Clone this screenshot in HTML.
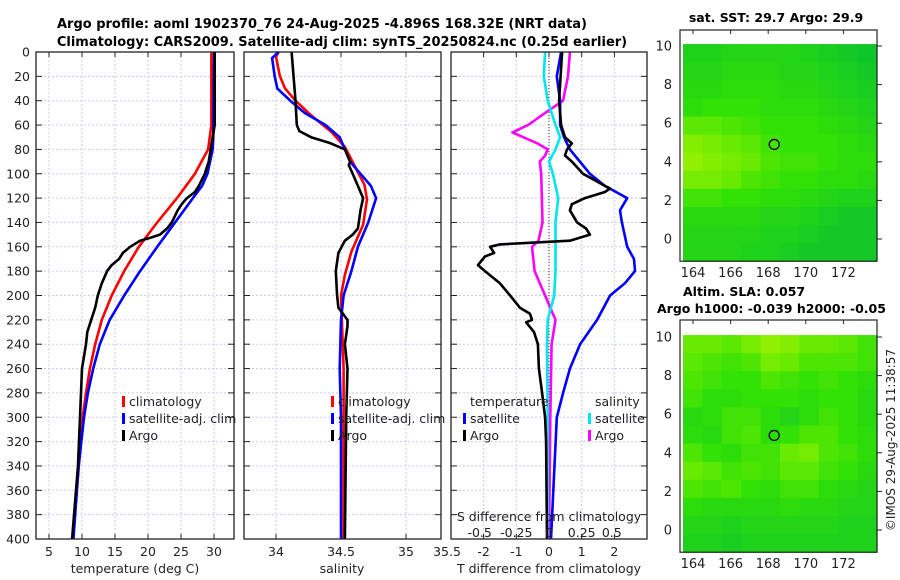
<!DOCTYPE html>
<html><head><meta charset="utf-8"><style>
html,body{margin:0;padding:0;background:#fff;}
svg{display:block;font-family:"DejaVu Sans","Liberation Sans",sans-serif;}
</style></head><body>
<svg id="fig" width="900" height="580" viewBox="0 0 900 580" xmlns="http://www.w3.org/2000/svg">
<text x="322" y="28" text-anchor="middle" font-size="13" font-weight="bold">Argo profile: aoml 1902370_76 24-Aug-2025 -4.896S 168.32E (NRT data)</text>
<text x="342" y="46" text-anchor="middle" font-size="13" font-weight="bold">Climatology: CARS2009. Satellite-adj clim: synTS_20250824.nc (0.25d earlier)</text>
<g id="g1"></g>
<g id="g2"></g>
<g id="g3"></g>
<g id="m1"></g>
<g id="m2"></g>
<text x="776" y="22" text-anchor="middle" font-size="12.5" font-weight="bold">sat. SST: 29.7 Argo: 29.9</text>
<text x="683" y="296" font-size="12.5" font-weight="bold">Altim. SLA: 0.057</text>
<text x="657" y="313" font-size="12.5" font-weight="bold">Argo h1000: -0.039 h2000: -0.05</text>
<text transform="translate(895,440) rotate(-90)" text-anchor="middle" font-size="12" fill="#222">©IMOS 29-Aug-2025 11:38:57</text>
</svg>
<script>
// ---- data ----
const depthTicks = [0,20,40,60,80,100,120,140,160,180,200,220,240,260,280,300,320,340,360,380,400];
const tempTicks = [5,10,15,20,25,30];
const salTicks = [34,34.5,35];
const dTTicks = [-2,-1,0,1,2];
const dSTickLabels = ["-0.5","-0.25","0","0.25","0.5"];
const dSTicks = [-0.53,-0.25,0,0.25,0.48];

const climTdepth = [0,60,80,100,120,140,160,180,200,220,240,260,280,300,340,400];
const climT = [29.6,29.6,29.1,27.1,24.4,21.4,18.6,16.4,14.5,13.0,12.0,11.2,10.6,10.1,9.5,8.6];
const satTdepth = [0,70,80,100,110,120,140,160,180,200,220,240,260,280,300,340,400];
const satT = [30.0,29.9,29.8,29.0,28.2,26.8,24.1,21.4,18.8,16.4,14.2,12.7,11.7,10.9,10.3,9.5,8.7];
const argoTdepth = [0,60,80,90,100,110,115,120,125,130,140,145,150,153,155,160,165,170,175,180,190,200,210,220,230,240,260,300,340,400];
const argoT = [30.1,30.1,29.5,29.2,28.6,27.7,27.1,25.9,25.1,24.5,23.6,22.9,21.8,20.1,18.8,17.3,16.2,15.6,14.5,13.8,13.0,12.4,12.0,11.4,10.8,10.6,10.0,9.7,9.4,8.5];

const climSdepth = [0,4,20,30,40,52,66,78,109,121,142,164,183,200,260,400];
const climS = [34.02,34.0,34.03,34.07,34.15,34.27,34.43,34.53,34.68,34.70,34.67,34.58,34.53,34.50,34.52,34.52];
const satSdepth = [0,5,20,30,40,50,60,70,80,90,100,110,120,140,160,180,200,220,260,300,400];
const satS = [34.02,33.97,33.99,34.01,34.11,34.22,34.38,34.49,34.53,34.57,34.65,34.73,34.77,34.71,34.63,34.58,34.52,34.50,34.49,34.50,34.50];
const argoSdepth = [0,40,60,65,70,75,80,90,93,100,110,120,130,145,150,155,165,180,200,210,220,225,240,260,300,400];
const argoS = [34.12,34.15,34.16,34.18,34.27,34.42,34.53,34.57,34.56,34.59,34.63,34.67,34.65,34.63,34.59,34.53,34.48,34.46,34.47,34.48,34.55,34.55,34.53,34.55,34.54,34.53];

const dTsatDepth = [0,20,40,60,70,80,100,110,120,130,140,160,170,180,190,200,220,240,260,280,300,400];
const dTsat = [0.37,0.24,0.34,0.34,0.46,0.64,1.25,1.71,2.39,2.17,2.23,2.39,2.6,2.63,2.32,1.87,1.47,0.95,0.64,0.43,0.24,0.06];
const dTargoDepth = [0,40,60,70,75,80,85,90,100,105,110,112,115,120,125,130,140,145,150,155,158,160,165,168,175,180,190,200,210,215,220,222,230,240,260,280,300,320,400];
const dTargo = [0.4,0.31,0.37,0.49,0.7,0.55,0.49,0.7,1.04,1.38,1.71,1.87,1.71,1.1,0.7,0.64,0.86,1.13,1.25,0.64,-1.5,-1.8,-1.68,-1.96,-2.17,-1.96,-1.5,-1.19,-0.89,-0.58,-0.52,-0.7,-0.46,-0.34,-0.31,-0.21,-0.12,-0.09,-0.06];
const dSsatDepth = [0,20,40,60,70,80,90,100,120,140,160,180,200,220,240,300,400];
const dSsat = [-0.03,-0.04,-0.01,0.05,0.085,0.05,0.0,0.03,0.07,0.05,0.05,0.05,0.04,-0.01,-0.015,-0.01,-0.01];
const dSargoDepth = [0,20,40,50,60,66,75,80,85,90,100,140,155,160,180,200,210,220,240,300,400];
const dSargo = [0.16,0.145,0.107,-0.03,-0.16,-0.28,-0.09,-0.01,-0.03,-0.07,-0.06,-0.05,-0.08,-0.13,-0.11,-0.03,0.01,0.05,0.02,0.01,0.0];

const mapLons = [164,166,168,170,172];
const mapLats = [0,2,4,6,8,10];
const sstGrid = [
[0.30,0.30,0.35,0.35,0.35,0.35,0.30,0.25,0.20,0.15],
[0.35,0.35,0.40,0.40,0.40,0.35,0.35,0.30,0.25,0.20],
[0.40,0.40,0.45,0.45,0.45,0.40,0.40,0.35,0.30,0.25],
[0.45,0.50,0.50,0.50,0.45,0.45,0.45,0.40,0.35,0.30],
[0.65,0.65,0.60,0.55,0.50,0.50,0.50,0.45,0.40,0.35],
[0.80,0.75,0.70,0.65,0.55,0.50,0.50,0.50,0.45,0.40],
[0.85,0.80,0.75,0.70,0.60,0.55,0.55,0.50,0.45,0.45],
[0.75,0.75,0.70,0.60,0.55,0.50,0.50,0.45,0.45,0.40],
[0.55,0.55,0.50,0.50,0.45,0.45,0.40,0.35,0.30,0.30],
[0.40,0.40,0.40,0.40,0.35,0.35,0.30,0.25,0.20,0.20],
[0.35,0.35,0.35,0.35,0.30,0.30,0.25,0.20,0.20,0.20],
[0.35,0.35,0.35,0.30,0.30,0.25,0.20,0.20,0.20,0.20]];
const slaGrid = [
[0.70,0.70,0.65,0.75,0.85,0.80,0.70,0.70,0.65,0.55],
[0.65,0.60,0.55,0.60,0.75,0.70,0.60,0.60,0.60,0.55],
[0.60,0.55,0.50,0.50,0.60,0.55,0.50,0.55,0.50,0.45],
[0.55,0.45,0.45,0.50,0.50,0.50,0.45,0.50,0.50,0.40],
[0.40,0.45,0.55,0.55,0.45,0.35,0.45,0.55,0.50,0.40],
[0.45,0.40,0.55,0.60,0.45,0.50,0.60,0.60,0.50,0.45],
[0.60,0.50,0.45,0.55,0.55,0.70,0.75,0.60,0.55,0.45],
[0.70,0.65,0.55,0.60,0.55,0.65,0.65,0.55,0.50,0.40],
[0.60,0.55,0.60,0.50,0.45,0.55,0.55,0.45,0.40,0.35],
[0.45,0.40,0.40,0.40,0.40,0.45,0.40,0.40,0.35,0.35],
[0.35,0.35,0.30,0.35,0.35,0.35,0.35,0.35,0.30,0.30],
[0.30,0.30,0.25,0.30,0.30,0.30,0.30,0.30,0.30,0.30]];

// ---- drawing ----
const NS = "http://www.w3.org/2000/svg";
function mk(parent, tag, attrs){ const e=document.createElementNS(NS,tag); for(const k in attrs) e.setAttribute(k,attrs[k]); parent.appendChild(e); return e; }
const Y0=52, Y1=539;
const yD = d => Y0 + d*(Y1-Y0)/400;
const xT = t => 49 + (t-5)*6.6;
const xS = s => 276 + (s-34)*130;
const xdT = v => 549 + v*32.7;
const xdS = v => 549 + v*130.8;

function panel(g, left, right){
  for(const d of depthTicks){ if(d>0&&d<400){ const l=mk(g,'line',{x1:left,x2:right,y1:yD(d),y2:yD(d),stroke:'#c5cdf0','stroke-width':1,'stroke-dasharray':'2,2'});
      }
    const t1=mk(g,'line',{x1:left,x2:left+6,y1:yD(d),y2:yD(d),stroke:'#222','stroke-width':1});
     
    const t2=mk(g,'line',{x1:right-6,x2:right,y1:yD(d),y2:yD(d),stroke:'#222','stroke-width':1});
     
  }
}
function vgrid(g, xs){ for(const x of xs){ const l=mk(g,'line',{x1:x,x2:x,y1:Y0,y2:Y1,stroke:'#c5cdf0','stroke-width':1,'stroke-dasharray':'2,2'});
   
  const t=mk(g,'line',{x1:x,x2:x,y1:Y0,y2:Y0+5,stroke:'#222'});  
  const b=mk(g,'line',{x1:x,x2:x,y1:Y1-5,y2:Y1,stroke:'#222'});   } }
function frame(g,left,right){ const r=mk(g,'rect',{x:left,y:Y0,width:right-left,height:Y1-Y0,fill:'none',stroke:'#222','stroke-width':1.3});
    }
function line(g, depths, vals, fx, color, name){
  const pts = depths.map((d,i)=> fx(vals[i]).toFixed(1)+','+yD(d).toFixed(1)).join(' ');
  const p=mk(g,'polyline',{points:pts,fill:'none',stroke:color,'stroke-width':2.6,'stroke-linejoin':'round'});
   
}
function txt(g,x,y,s,attrs,name){ const t=mk(g,'text',Object.assign({x:x,y:y,'font-size':12.5,fill:'#222'},attrs||{})); t.textContent=s;
    return t; }
function legendEntry(g,x,y,color,label){ const r=mk(g,'rect',{x:x,y:y-10,width:3,height:11,fill:color});
   
  txt(g,x+7,y,label,{},'legend-entry'); }
const L1=406, L2=423, L3=440;

// Panel 1
const g1=document.getElementById('g1');
panel(g1,36,234); vgrid(g1,tempTicks.map(xT));
line(g1,climTdepth,climT,xT,'#ff0000','climatology-temp-line');
line(g1,satTdepth,satT,xT,'#0000ff','satellite-temp-line');
line(g1,argoTdepth,argoT,xT,'#000000','argo-temp-line');
frame(g1,36,234);
for(const d of depthTicks) txt(g1,30,yD(d)+4.5,String(d),{'text-anchor':'end'},'y-tick-label');
for(const t of tempTicks) txt(g1,xT(t),556,String(t),{'text-anchor':'middle'},'x-tick-label');
txt(g1,135,573,'temperature (deg C)',{'text-anchor':'middle'},'x-axis-title');
legendEntry(g1,122,L1,'#ff0000','climatology');
legendEntry(g1,122,L2,'#0000ff','satellite-adj. clim');
legendEntry(g1,122,L3,'#000000','Argo');

// Panel 2
const g2=document.getElementById('g2');
panel(g2,244,441); vgrid(g2,salTicks.map(xS));
line(g2,climSdepth,climS,xS,'#ff0000','climatology-salinity-line');
line(g2,satSdepth,satS,xS,'#0000ff','satellite-salinity-line');
line(g2,argoSdepth,argoS,xS,'#000000','argo-salinity-line');
frame(g2,244,441);
for(const s of salTicks) txt(g2,xS(s),556,String(s),{'text-anchor':'middle'},'x-tick-label');
txt(g2,447,556,'35.5',{'text-anchor':'middle'},'x-tick-label');
txt(g2,342,573,'salinity',{'text-anchor':'middle'},'x-axis-title');
legendEntry(g2,331,L1,'#ff0000','climatology');
legendEntry(g2,331,L2,'#0000ff','satellite-adj. clim');
legendEntry(g2,331,L3,'#000000','Argo');

// Panel 3
const g3=document.getElementById('g3');
panel(g3,451,647); vgrid(g3,dTTicks.map(xdT));
const zl=mk(g3,'line',{x1:xdT(0),x2:xdT(0),y1:Y0,y2:Y1,stroke:'#555','stroke-width':1.2,'stroke-dasharray':'1,2'});
 
line(g3,dSargoDepth,dSargo,xdS,'#ff00ff','argo-salinity-diff-line');
line(g3,dSsatDepth,dSsat,xdS,'#00e5ee','satellite-salinity-diff-line');
line(g3,dTsatDepth,dTsat,xdT,'#0000ff','satellite-temp-diff-line');
line(g3,dTargoDepth,dTargo,xdT,'#000000','argo-temp-diff-line');
frame(g3,451,647);
for(const v of dTTicks) txt(g3,xdT(v),556,String(v),{'text-anchor':'middle'},'x-tick-label');
txt(g3,549,573,'T difference from climatology',{'text-anchor':'middle'},'x-axis-title');
txt(g3,549,521,'S difference from climatology',{'text-anchor':'middle'},'s-axis-title');
dSTicks.forEach((v,i)=> txt(g3,xdS(v),537,dSTickLabels[i],{'text-anchor':'middle'},'s-tick-label'));
txt(g3,470,L1,'temperature',{},'legend-title');
legendEntry(g3,463,L2,'#0000ff','satellite');
legendEntry(g3,463,L3,'#000000','Argo');
txt(g3,595,L1,'salinity',{},'legend-title');
legendEntry(g3,588,L2,'#00e5ee','satellite');
legendEntry(g3,588,L3,'#ff00ff','Argo');

// Maps
function col(v){
  let r,g,b;
  if(v<0.5){ const t=v/0.5; r=0+t*50; g=185+t*40; b=60-t*55; }
  else { const t=(v-0.5)/0.5; r=50+t*135; g=225+t*22; b=5-t*5; }
  return 'rgb('+Math.round(r)+','+Math.round(g)+','+Math.round(b)+')';
}
function drawMap(gid, grid, yBase, boxTop){
  const g=document.getElementById(gid);
  const xL = lon => 693 + (lon-164)*18.8;
  const yL = lat => yBase - lat*19.3;
  const bx=680, bw=197, by=boxTop, bb=yL(-1.15);
  const imgTop=yL(10.1), imgL=683, imgR=877;
  const rows=grid.length, cols=grid[0].length;
  const cw=(imgR-imgL)/cols, ch=(bb-imgTop)/rows;
  grid.forEach((row,i)=>row.forEach((v,j)=>{
    const r=mk(g,'rect',{x:(imgL+j*cw).toFixed(2),y:(imgTop+i*ch).toFixed(2),width:(cw+0.6).toFixed(2),height:(ch+0.6).toFixed(2),fill:col(v)});
     
  }));
  const fr=mk(g,'rect',{x:bx,y:by,width:bw,height:bb-by,fill:'none',stroke:'#222','stroke-width':1.2});
   
  for(const lat of mapLats){ txt(g,672,yL(lat)+4.5,String(lat),{'text-anchor':'end','font-size':13},'map-y-tick-label');
    const t=mk(g,'line',{x1:877,x2:882,y1:yL(lat),y2:yL(lat),stroke:'#222'});   }
  for(const lon of mapLons){ txt(g,xL(lon),bb+16,String(lon),{'text-anchor':'middle','font-size':13},'map-x-tick-label');
    const t=mk(g,'line',{x1:xL(lon),x2:xL(lon),y1:by,y2:by+4,stroke:'#222'});   }
  const c=mk(g,'circle',{cx:xL(168.32),cy:yL(4.9),r:5,fill:'none',stroke:'#000','stroke-width':1.3});
   
}
drawMap('m1',sstGrid,239,30);
drawMap('m2',slaGrid,530,320);
</script>
</body></html>
